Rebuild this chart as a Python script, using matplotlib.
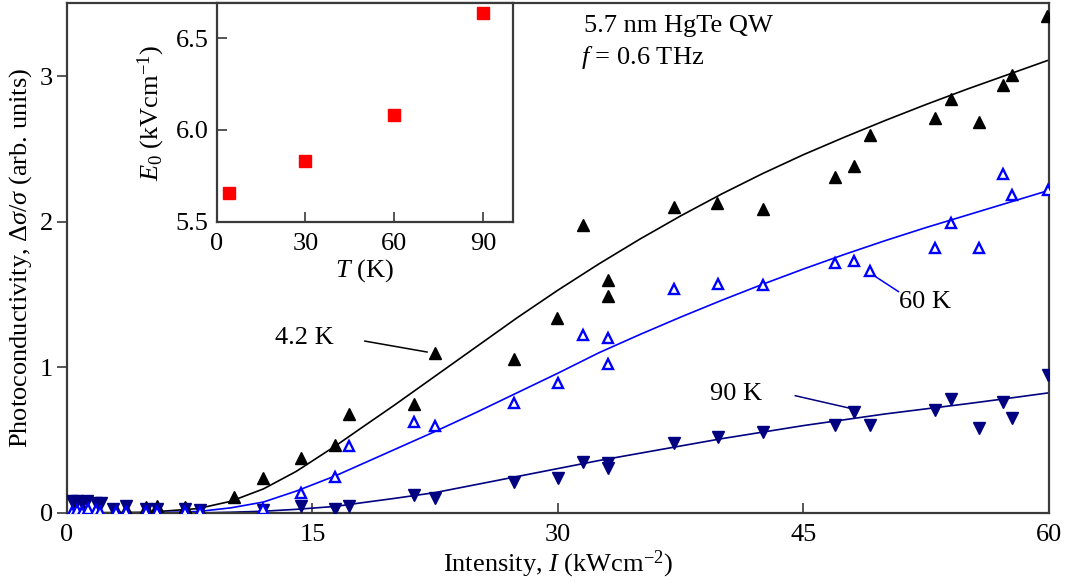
import matplotlib
matplotlib.use("Agg")
import matplotlib.pyplot as plt

plt.rcParams['font.family'] = ['Liberation Serif', 'DejaVu Serif']
plt.rcParams['mathtext.fontset'] = 'custom'
plt.rcParams['mathtext.rm'] = 'Liberation Serif'
plt.rcParams['mathtext.it'] = 'Liberation Serif:italic'
plt.rcParams['mathtext.bf'] = 'Liberation Serif:bold'

# ---- data: 4.2 K (filled black up-triangles)
x_42 = [0.5, 1.0, 1.8, 3.0, 3.6, 4.8, 5.5, 7.2, 8.1, 10.2, 11.95, 14.27, 16.39, 17.25, 21.2, 22.5,
        27.3, 29.95, 31.5, 33.07, 33.07, 37.1, 39.7, 42.5, 46.95, 48.1, 49.06, 53.05, 54.0, 55.7,
        57.2, 57.75, 59.85]
y_42 = [0.03, 0.03, 0.03, 0.02, 0.03, 0.04, 0.05, 0.04, 0.02, 0.11, 0.24, 0.38, 0.465, 0.68, 0.745, 1.10,
        1.06, 1.34, 1.98, 1.49, 1.60, 2.10, 2.13, 2.09, 2.31, 2.38, 2.595, 2.715, 2.84, 2.685,
        2.94, 3.005, 3.41]

# ---- data: 60 K (open blue up-triangles)
x_60 = [0.3, 0.6, 0.9, 1.3, 1.8, 2.0, 3.0, 3.6, 4.8, 5.5, 7.2, 8.1, 11.95, 14.27, 16.39, 17.25, 21.2,
        22.5, 27.3, 29.97, 31.5, 33.07, 33.03, 37.06, 39.75, 42.5, 46.95, 48.1, 49.06, 53.05, 54.0,
        55.7, 57.2, 57.75, 59.95]
y_60 = [0.01, 0.02, 0.01, 0.03, 0.02, 0.01, 0.01, 0.01, 0.01, 0.01, 0.01, 0.01, 0.03, 0.135, 0.25, 0.46,
        0.625, 0.595, 0.755, 0.895, 1.225, 1.20, 1.025, 1.54, 1.57, 1.565, 1.715, 1.73, 1.66, 1.82,
        1.99, 1.82, 2.33, 2.18, 2.215]

# ---- data: 90 K (filled navy down-triangles)
x_90 = [0.3, 0.6, 0.9, 1.2, 1.8, 2.1, 2.8, 3.6, 4.8, 5.5, 7.2, 8.1, 11.95, 14.27, 16.39, 17.25, 21.2,
        22.5, 27.3, 29.97, 31.5, 33.03, 33.03, 37.06, 39.75, 42.5, 46.9, 48.1, 49.06, 53.05, 54.0,
        55.7, 57.2, 57.75, 59.95]
y_90 = [0.08, 0.08, 0.07, 0.08, 0.07, 0.07, 0.03, 0.05, 0.03, 0.03, 0.03, 0.02, 0.02, 0.045, 0.025,
        0.05, 0.12, 0.10, 0.21, 0.24, 0.35, 0.34, 0.31, 0.48, 0.52, 0.555, 0.605, 0.69, 0.605, 0.705,
        0.785, 0.58, 0.76, 0.655, 0.945]

# ---- fitted curves
fit_x = [0, 5, 8, 10, 12, 14, 16.4, 18, 20, 22.5, 25, 27.5, 30, 32.5, 35, 37.5, 40, 42.5, 45,
         47.5, 50, 52.5, 55, 57.5, 60]
fit_42 = [0, 0.005, 0.03, 0.08, 0.165, 0.285, 0.46, 0.585, 0.74, 0.94, 1.14, 1.34, 1.53, 1.71, 1.88,
          2.04, 2.19, 2.33, 2.46, 2.58, 2.695, 2.805, 2.91, 3.01, 3.11]
fit_60 = [0, 0.0, 0.01, 0.035, 0.075, 0.15, 0.255, 0.335, 0.435, 0.56, 0.69, 0.825, 0.96, 1.10,
          1.225, 1.345, 1.46, 1.57, 1.675, 1.775, 1.87, 1.96, 2.045, 2.13, 2.215]
fit_90 = [0, 0, 0.0, 0.005, 0.012, 0.025, 0.045, 0.07, 0.10, 0.14, 0.195, 0.25, 0.305, 0.36, 0.41,
          0.46, 0.51, 0.555, 0.60, 0.64, 0.68, 0.715, 0.75, 0.787, 0.825]

# ---- inset data
T_inset = [4.2, 30, 60, 90]
E0_inset = [5.655, 5.83, 6.08, 6.637]

main_xticks = [0, 15, 30, 45, 60]
main_yticks = [0, 1, 2, 3]
inset_xticks = [0, 30, 60, 90]
inset_yticks = [5.5, 6.0, 6.5]
inset_yticklabels = ['5.5', '6.0', '6.5']

FS = 19
spine_c = '#3a3a3a'

fig = plt.figure(figsize=(10.77, 5.88), dpi=100)
ax = fig.add_axes([0.0622, 0.1276, 0.9118, 0.867])

ax.plot(fit_x, fit_42, color='black', lw=1.2, zorder=2)
ax.plot(fit_x, fit_60, color='#0000ff', lw=1.2, zorder=2)
ax.plot(fit_x, fit_90, color='#000080', lw=1.2, zorder=2)

ax.plot(x_42, y_42, ls='none', marker='^', ms=8.5, color='black', mec='black', zorder=3)
ax.plot(x_60, y_60, ls='none', marker='^', ms=7.5, mfc='white', mec='#0000ff', mew=1.7, zorder=4)
ax.plot(x_90, y_90, ls='none', marker='v', ms=8.5, color='#000080', mec='#000080', zorder=3)

ax.set_xlim(0, 60)
ax.set_ylim(0, 3.5)
ax.set_xticks(main_xticks)
ax.set_yticks(main_yticks)
ax.tick_params(axis='x', direction='in', length=7, width=1.2, labelsize=FS, pad=8, color=spine_c)
ax.tick_params(axis='y', direction='out', length=7, width=1.2, labelsize=FS, pad=3, color=spine_c)
for s in ax.spines.values():
    s.set_color(spine_c)
    s.set_linewidth(1.6)

ax.set_xlabel(r'Intensity, $I$ (kWcm$^{-2}$)', fontsize=FS, labelpad=2)
ax.set_ylabel(r'Photoconductivity, $\Delta\sigma/\sigma$ (arb. units)', fontsize=FS, labelpad=4)

# annotations
ax.text(31.6, 3.30, '5.7 nm HgTe QW', fontsize=FS, ha='left', va='baseline')
ax.text(31.4, 3.08, r'$f$ = 0.6 THz', fontsize=FS, ha='left', va='baseline')

ax.text(14.5, 1.20, '4.2 K', fontsize=FS, ha='center', va='center')
ax.plot([18.2, 22.0], [1.18, 1.105], color='black', lw=1.1)

ax.text(52.4, 1.45, '60 K', fontsize=FS, ha='center', va='center')
ax.plot([49.3, 50.8], [1.63, 1.52], color='#0000ff', lw=1.1)

ax.text(40.9, 0.82, '90 K', fontsize=FS, ha='center', va='center')
ax.plot([44.5, 47.8], [0.805, 0.72], color='#000080', lw=1.1)

# inset
ins = fig.add_axes([0.2012, 0.623, 0.2748, 0.3716])
ins.plot(T_inset, E0_inset, ls='none', marker='s', ms=8, color='#ff0000', mec='#ff0000')
ins.set_xlim(0, 100)
ins.set_ylim(5.5, 6.69)
ins.set_xticks(inset_xticks)
ins.set_yticks(inset_yticks)
ins.set_yticklabels(inset_yticklabels)
ins.tick_params(direction='in', length=7, width=1.2, labelsize=FS, color=spine_c)
ins.tick_params(axis='x', pad=8)
ins.tick_params(axis='y', pad=6)
for s in ins.spines.values():
    s.set_color(spine_c)
    s.set_linewidth(1.6)
ins.set_xlabel(r'$T$ (K)', fontsize=FS, labelpad=2)
ins.set_ylabel(r'$E_0$ (kVcm$^{-1}$)', fontsize=FS, labelpad=6)

fig.savefig('out.png', dpi=100)
